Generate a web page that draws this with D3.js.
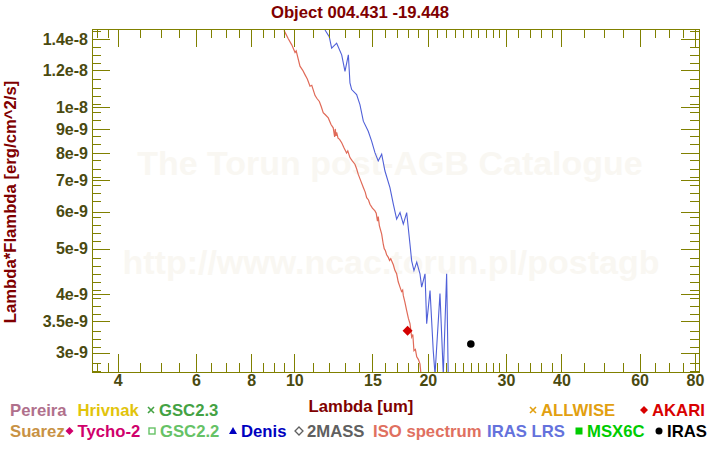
<!DOCTYPE html>
<html><head><meta charset="utf-8">
<script src="https://cdn.jsdelivr.net/npm/d3@7"></script>
<style>
body{margin:0;background:#fff}
svg{display:block}
text{font-family:"Liberation Sans",Arial,sans-serif;font-weight:bold}
</style>
</head><body>
<svg id="c" width="720" height="450"></svg>
<script>
// ---------------- data ----------------
const chartTitle = "Object 004.431 -19.448";
const xTitle = "Lambda [um]";
const yTitle = "Lambda*Flambda [erg/cm^2/s]";
const watermark1 = "The Torun post-AGB Catalogue";
const watermark2 = "http://www.ncac.torun.pl/postagb";

const xDomain = [3.5, 81.7];
const yDomain = [2.729e-9, 1.470e-8];

const xTickValues = [4, 6, 8, 10, 15, 20, 30, 40, 60, 80];
const xMinorTicks = [3.6, 3.8, 4.5, 5, 5.5, 6.5, 7, 7.5, 8.5, 9, 9.5,
  11, 12, 13, 14, 16, 17, 18, 19, 21, 22, 23, 24, 25, 26, 27, 28, 29,
  32, 34, 36, 38, 45, 50, 55, 65, 70, 75];
const yTickValues = [1.4e-8, 1.2e-8, 1e-8, 9e-9, 8e-9, 7e-9, 6e-9, 5e-9, 4e-9, 3.5e-9, 3e-9];
const yTickLabels = ["1.4e-8", "1.2e-8", "1e-8", "9e-9", "8e-9", "7e-9", "6e-9", "5e-9", "4e-9", "3.5e-9", "3e-9"];

const FLUX_UNIT = 1e-9; // flux arrays below are in units of 1e-9 erg/cm^2/s

// ISO spectrum
const isoLambda = [9.48, 9.70, 9.87, 10.04, 10.10, 10.30, 10.45, 10.57, 10.70, 10.85, 10.95, 11.14, 11.25, 11.39, 11.50,
  11.62, 11.75, 11.93, 12.10, 12.24, 12.33, 12.37, 12.42, 12.46, 12.55, 12.65, 12.79, 12.95, 13.12, 13.20,
  13.35, 13.50, 13.70, 13.82, 13.94, 14.10, 14.31, 14.45, 14.56, 14.70, 14.81, 15.00, 15.20, 15.30, 15.40,
  15.46, 15.55, 15.74, 15.87, 15.95, 16.05, 16.15, 16.29, 16.40, 16.50, 16.72, 16.85, 17.01, 17.15, 17.31,
  17.45, 17.55, 17.61, 17.75, 17.92, 18.08, 18.23, 18.39, 18.50, 18.61, 18.75, 18.88, 19.05, 19.20, 19.30];
const isoFlux = [14.6, 14.0, 13.6, 13.1, 13.2, 12.25, 12.0, 11.75, 11.5, 11.1, 11.15, 10.6, 10.45, 10.3, 10.05,
  9.75, 9.65, 9.5, 9.2, 9.05, 8.65, 9.0, 8.7, 8.85, 8.6, 8.55, 8.41, 8.2, 8.0, 8.08,
  7.82, 7.7, 7.57, 7.4, 7.2, 7.0, 6.75, 6.6, 6.42, 6.35, 6.22, 6.1, 6.02, 5.95, 5.72,
  5.85, 5.6, 5.37, 5.11, 5.0, 4.95, 4.85, 4.79, 4.72, 4.76, 4.62, 4.5, 4.42, 4.25, 4.14,
  4.05, 4.08, 3.97, 3.85, 3.69, 3.55, 3.46, 3.24, 3.28, 3.03, 3.05, 2.94, 2.90, 2.84, 2.70];

// IRAS LRS spectrum
const lrsLambda = [11.73, 11.99, 12.14, 12.46, 12.79, 13.01, 13.24, 13.35, 13.47, 13.82, 14.06, 14.31, 14.68, 14.94,
  15.20, 15.46, 15.74, 16.01, 16.43, 16.72, 17.01, 17.31, 17.61, 17.92, 18.23, 18.39, 18.61, 18.88,
  19.20, 19.37, 19.71, 19.88, 20.23, 20.57, 20.76, 21.30, 21.67, 22.05, 22.23];
const lrsFlux = [14.63, 14.16, 13.38, 13.71, 12.95, 11.94, 12.95, 11.28, 10.92, 10.65, 10.14, 9.35, 8.90, 8.48,
  8.01, 7.69, 7.95, 7.32, 6.75, 6.22, 5.78, 5.97, 5.64, 5.97, 5.11, 4.71, 4.49, 4.68,
  4.42, 4.14, 4.42, 3.46, 4.07, 3.03, 2.70, 4.01, 2.70, 4.42, 2.70];

// photometry
const akariLambda = [18.0];
const akariFlux = [3.34];
const irasLambda = [25.0];
const irasFlux = [3.13];

// legend
const legendNames = ["Pereira", "Hrivnak", "GSC2.3", "ALLWISE", "AKARI",
  "Suarez", "Tycho-2", "GSC2.2", "Denis", "2MASS", "ISO spectrum", "IRAS LRS", "MSX6C", "IRAS"];
const legendColors = ["#b0708c", "#e2c40c", "#44a244", "#e2a010", "#d80000",
  "#c89244", "#d0006c", "#66c266", "#0000c0", "#606060", "#e07060", "#6472dc", "#00cc00", "#000000"];
const legendSymbols = ["", "", "x", "x", "diamond",
  "", "diamond", "square-open", "triangle", "diamond-open", "", "", "square", "circle"];

// ---------------- layout ----------------
const M = {left: 92, right: 699, top: 29, bottom: 372};
const legendRow = [0, 0, 0, 0, 0, 1, 1, 1, 1, 1, 1, 1, 1, 1];
const legendTextX = [10, 77.5, 159, 541, 652, 10, 77.5, 160, 241, 307, 373, 487, 587, 667];
const legendRowY = [416, 437];
const FS = "16.7px";
const OLIVE = "#808000";
const LABEL = "#4a4a10";
const DARKRED = "#800000";

const svg = d3.select("#c");
svg.append("rect").attr("width", 720).attr("height", 450).attr("fill", "#fff");

const x = d3.scaleLog().domain(xDomain).range([M.left, M.right]);
const y = d3.scaleLog().domain(yDomain).range([M.bottom, M.top]);

// watermark
const wm = svg.append("g").attr("fill", "#f9f7f2").attr("text-anchor", "middle").style("font-size", "34px");
wm.append("text").attr("x", 390).attr("y", 175).text(watermark1);
wm.append("text").attr("x", 391).attr("y", 274).text(watermark2);

// clip
svg.append("clipPath").attr("id", "clip").append("rect")
  .attr("x", M.left).attr("y", M.top).attr("width", M.right - M.left).attr("height", M.bottom - M.top);

const plot = svg.append("g").attr("clip-path", "url(#clip)");
const line = d3.line().x(d => x(d[0])).y(d => y(d[1] * FLUX_UNIT));

plot.append("path").datum(isoLambda.map((l, i) => [l, isoFlux[i]]))
  .attr("d", line).attr("fill", "none").attr("stroke", "#e06a58").attr("stroke-width", 1.2);
plot.append("path").datum(lrsLambda.map((l, i) => [l, lrsFlux[i]]))
  .attr("d", line).attr("fill", "none").attr("stroke", "#5060d8").attr("stroke-width", 1.1);

// AKARI diamonds
plot.selectAll(".akari").data(akariLambda.map((l, i) => [l, akariFlux[i]])).enter().append("path")
  .attr("transform", d => `translate(${x(d[0])},${y(d[1] * FLUX_UNIT)})`)
  .attr("d", "M0,-5L5,0L0,5L-5,0Z").attr("fill", "#d40000");
// IRAS points
plot.selectAll(".iras").data(irasLambda.map((l, i) => [l, irasFlux[i]])).enter().append("circle")
  .attr("cx", d => x(d[0])).attr("cy", d => y(d[1] * FLUX_UNIT)).attr("r", 3.8).attr("fill", "#000");

// ---- axes ----
function styleAxis(g) {
  g.select(".domain").remove();
  g.selectAll("line").attr("stroke", OLIVE).attr("shape-rendering", "crispEdges");
  g.selectAll("text").attr("fill", LABEL).style("font-size", "16px").style("font-weight", "bold")
    .style("font-family", '"Liberation Sans",Arial,sans-serif');
}
// y minor ticks: evenly spaced in log (~8px)
const yMinor = [];
{
  const step = 0.01727, l0 = Math.log10(1.4e-8);
  const lo = Math.log10(yDomain[0]), hi = Math.log10(yDomain[1]);
  for (let k = -5; k < 60; k++) {
    const v = l0 - k * step;
    if (v > lo && v < hi) {
      const val = Math.pow(10, v);
      if (!yTickValues.some(t => Math.abs(y(t) - y(val)) < 3)) yMinor.push(val);
    }
  }
}

svg.append("g").attr("transform", `translate(0,${M.bottom})`)
  .call(d3.axisBottom(x).tickValues(xTickValues).tickSizeInner(-18).tickSizeOuter(0).tickPadding(3)
    .tickFormat(d3.format("d"))).call(styleAxis);
svg.append("g").attr("transform", `translate(0,${M.bottom})`)
  .call(d3.axisBottom(x).tickValues(xMinorTicks).tickSizeInner(-9).tickSizeOuter(0).tickFormat("")).call(styleAxis);
svg.append("g").attr("transform", `translate(0,${M.top})`)
  .call(d3.axisTop(x).tickValues(xTickValues).tickSizeInner(-18).tickSizeOuter(0).tickFormat("")).call(styleAxis);
svg.append("g").attr("transform", `translate(0,${M.top})`)
  .call(d3.axisTop(x).tickValues(xMinorTicks).tickSizeInner(-9).tickSizeOuter(0).tickFormat("")).call(styleAxis);

svg.append("g").attr("transform", `translate(${M.left},0)`)
  .call(d3.axisLeft(y).tickValues(yTickValues).tickSizeInner(-18).tickSizeOuter(0).tickPadding(4)
    .tickFormat((d, i) => yTickLabels[i])).call(styleAxis);
svg.append("g").attr("transform", `translate(${M.left},0)`)
  .call(d3.axisLeft(y).tickValues(yMinor).tickSizeInner(-9).tickSizeOuter(0).tickFormat("")).call(styleAxis);
svg.append("g").attr("transform", `translate(${M.right},0)`)
  .call(d3.axisRight(y).tickValues(yTickValues).tickSizeInner(-18).tickSizeOuter(0).tickFormat("")).call(styleAxis);
svg.append("g").attr("transform", `translate(${M.right},0)`)
  .call(d3.axisRight(y).tickValues(yMinor).tickSizeInner(-9).tickSizeOuter(0).tickFormat("")).call(styleAxis);

// frame
svg.append("rect").attr("x", M.left + 0.5).attr("y", M.top + 0.5)
  .attr("width", M.right - M.left).attr("height", M.bottom - M.top)
  .attr("fill", "none").attr("stroke", OLIVE).attr("stroke-width", 1);

// titles
svg.append("text").attr("x", 360).attr("y", 18).attr("text-anchor", "middle")
  .attr("fill", DARKRED).style("font-size", FS).text(chartTitle);
svg.append("text").attr("x", 361).attr("y", 412).attr("text-anchor", "middle")
  .attr("fill", DARKRED).style("font-size", FS).text(xTitle);
svg.append("text").attr("transform", "translate(16,202) rotate(-90)").attr("text-anchor", "middle")
  .attr("fill", DARKRED).style("font-size", FS).text(yTitle);

// legend
const lg = svg.append("g");
legendNames.forEach((name, i) => {
  const tx = legendTextX[i], ty = legendRowY[legendRow[i]];
  const col = legendColors[i];
  const cx = tx - 8, cy = ty - 6;
  const s = legendSymbols[i];
  if (s === "x") {
    lg.append("path").attr("d", `M${cx-3},${cy-3}L${cx+3},${cy+3}M${cx-3},${cy+3}L${cx+3},${cy-3}`)
      .attr("stroke", col).attr("stroke-width", 1.6);
  } else if (s === "diamond") {
    lg.append("path").attr("d", `M${cx},${cy-4}L${cx+4},${cy}L${cx},${cy+4}L${cx-4},${cy}Z`).attr("fill", col);
  } else if (s === "diamond-open") {
    lg.append("path").attr("d", `M${cx},${cy-4}L${cx+4},${cy}L${cx},${cy+4}L${cx-4},${cy}Z`)
      .attr("fill", "none").attr("stroke", col).attr("stroke-width", 1.3);
  } else if (s === "square-open") {
    lg.append("rect").attr("x", cx - 3).attr("y", cy - 3).attr("width", 6).attr("height", 6)
      .attr("fill", "none").attr("stroke", col).attr("stroke-width", 1.4);
  } else if (s === "square") {
    lg.append("rect").attr("x", cx - 3.5).attr("y", cy - 3.5).attr("width", 7).attr("height", 7).attr("fill", col);
  } else if (s === "triangle") {
    lg.append("path").attr("d", `M${cx},${cy-4}L${cx+4},${cy+3}L${cx-4},${cy+3}Z`).attr("fill", col);
  } else if (s === "circle") {
    lg.append("circle").attr("cx", cx).attr("cy", cy).attr("r", 3.5).attr("fill", col);
  }
  lg.append("text").attr("x", tx).attr("y", ty).attr("fill", col).style("font-size", FS).text(name);
});
</script>
</body></html>
